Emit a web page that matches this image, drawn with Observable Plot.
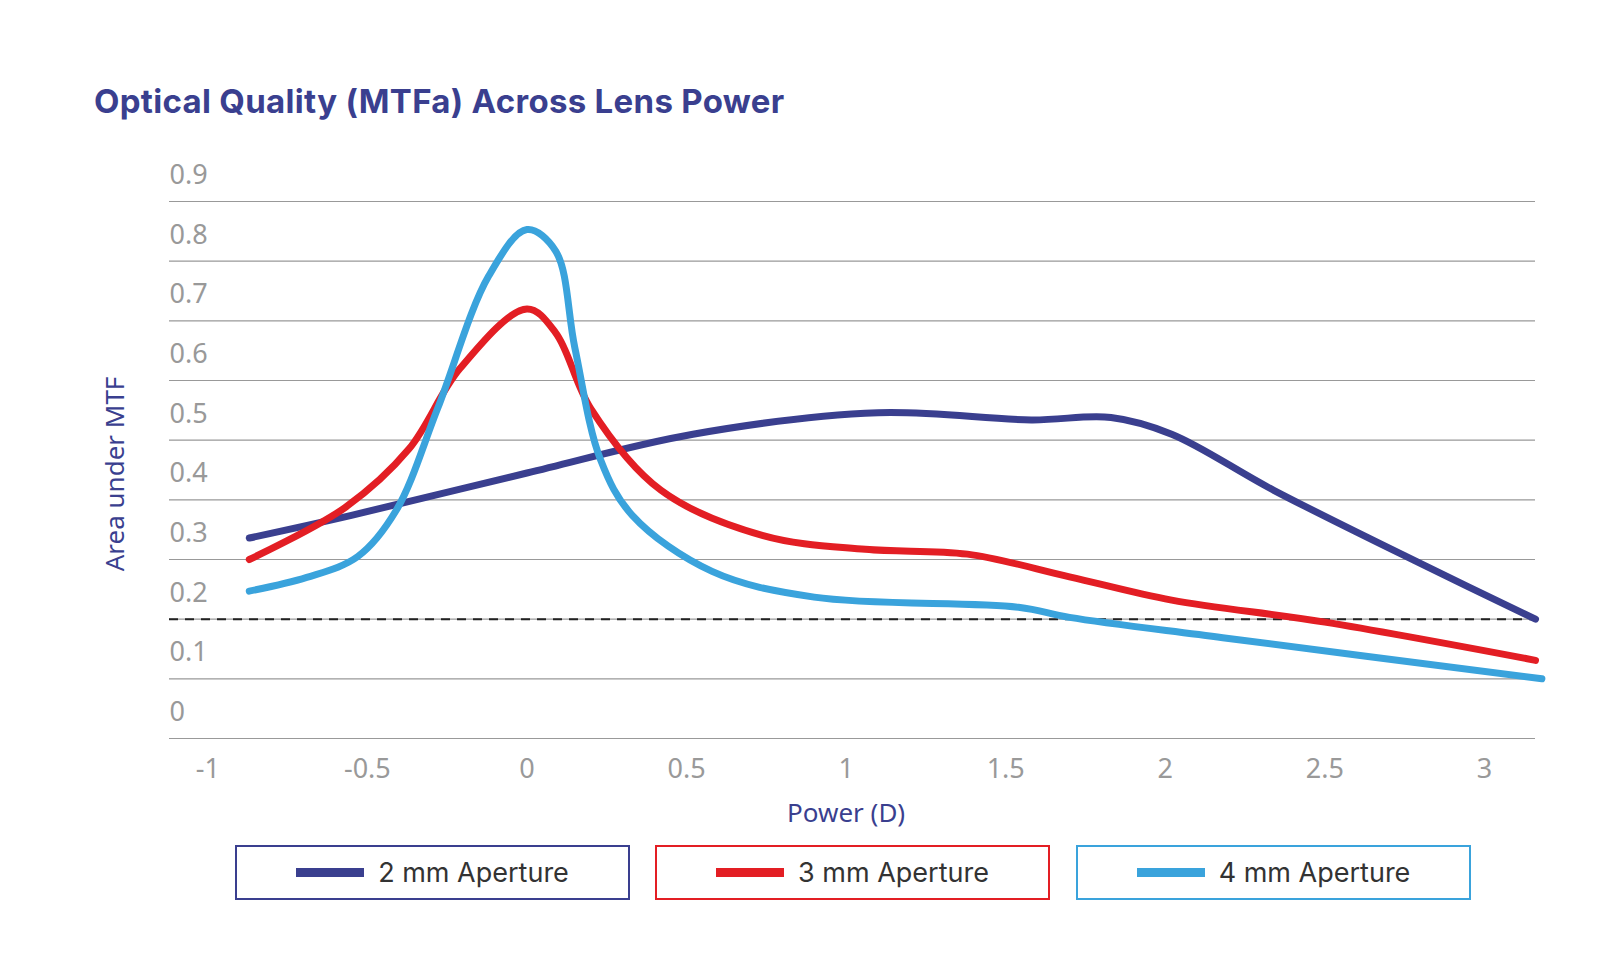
<!DOCTYPE html>
<html><head><meta charset="utf-8">
<script src="https://cdn.jsdelivr.net/npm/d3@7"></script>
<script src="https://cdn.jsdelivr.net/npm/@observablehq/plot@0.6"></script>
<style>
body{margin:0;background:#fff;font-family:Inter,"Noto Sans",sans-serif;}
#wrap{position:relative;width:1600px;height:971px;}
#title{position:absolute;left:94px;top:81px;font-size:33px;font-weight:700;color:#3a3f8f;letter-spacing:0.3px;}
#chart{position:absolute;left:0;top:0;}
.lg{position:absolute;top:845px;height:55px;width:395px;box-sizing:border-box;border:2px solid;display:flex;align-items:center;justify-content:center;font-size:27px;color:#333;}
.lg span{display:inline-block;width:68px;height:9px;margin-right:14px;}
</style></head><body>
<div id="wrap">
<div id="title">Optical Quality (MTFa) Across Lens Power</div>
<div id="chart"></div>
<div class="lg" style="left:235px;border-color:#3a3f8f"><span style="background:#3a3f8f"></span>2 mm Aperture</div>
<div class="lg" style="left:655px;border-color:#e31e24"><span style="background:#e31e24"></span>3 mm Aperture</div>
<div class="lg" style="left:1076px;border-color:#3aa3dc"><span style="background:#3aa3dc"></span>4 mm Aperture</div>
</div>
<script>
const x2 = [-0.87,-0.55,0,0.52,1.1,1.58,1.83,2.02,2.34,2.82,3.16];
const y2 = [0.336,0.374,0.445,0.51,0.546,0.534,0.538,0.51,0.416,0.288,0.2];
const x3 = [-0.87,-0.57,-0.37,-0.21,0,0.09,0.2,0.42,0.74,1.06,1.38,1.7,2.02,2.5,3.16];
const y3 = [0.30,0.387,0.485,0.62,0.72,0.68,0.553,0.416,0.34,0.317,0.309,0.271,0.232,0.195,0.131];
const x4 = [-0.87,-0.69,-0.53,-0.41,-0.28,-0.12,0,0.09,0.15,0.23,0.33,0.58,0.9,1.54,1.7,2.18,3.18];
const y4 = [0.247,0.27,0.305,0.382,0.553,0.775,0.853,0.817,0.655,0.468,0.374,0.28,0.237,0.22,0.203,0.169,0.10];
const yTicks = [0,0.1,0.2,0.3,0.4,0.5,0.6,0.7,0.8,0.9];
const xTicks = [-1,-0.5,0,0.5,1,1.5,2,2.5,3];
const threshold = 0.2;
const series = [
  {xs:x2, ys:y2, color:"#3a3f8f"},
  {xs:x3, ys:y3, color:"#e31e24"},
  {xs:x4, ys:y4, color:"#3aa3dc"}
];
const xmin=-1.12, xmax=3.16;
const marks = [
  Plot.ruleY(yTicks,{stroke:"#999",strokeWidth:1.2}),
  Plot.text(yTicks,{x:()=>xmin,y:d=>d,text:d=>String(d),dy:-26,textAnchor:"start",fill:"#999",fontSize:27}),
  Plot.text(xTicks,{x:d=>d,y:()=>0,text:d=>String(d),dy:31,fill:"#999",fontSize:27}),
  Plot.ruleY([threshold],{stroke:"#222",strokeWidth:2,strokeDasharray:"9,7"}),
  ...series.map(s=>Plot.line(s.xs.map((v,i)=>({x:v,y:s.ys[i]})),{x:"x",y:"y",stroke:s.color,strokeWidth:7,curve:"catmull-rom"})),
  Plot.text(["Power (D)"],{x:()=>1,y:()=>0,text:d=>d,dy:75,fill:"#3a3f8f",fontSize:26}),
];
const chart = Plot.plot({
  width:1600,height:845,
  marginLeft:169,marginRight:65,marginTop:201,marginBottom:107,
  x:{domain:[xmin,xmax],axis:null},
  y:{domain:[0,0.9],axis:null},
  marks
});
const svg = d3.select(chart);
svg.append("text").attr("transform","translate(124,474) rotate(-90)").attr("text-anchor","middle")
  .attr("fill","#3a3f8f").attr("font-size",26).text("Area under MTF");
document.getElementById("chart").appendChild(chart);
</script>
</body></html>
